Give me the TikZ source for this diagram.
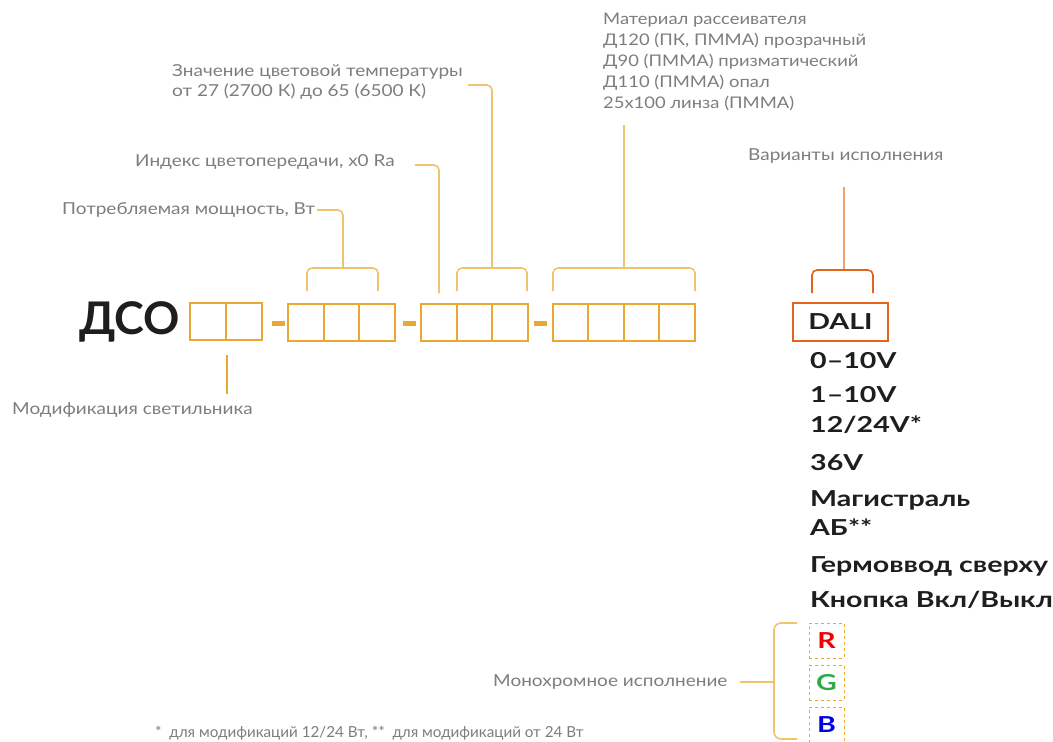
\documentclass[tikz,border=0pt]{standalone}
\usepackage{fontspec}
\setmainfont{Lato}
\newfontfamily\lblfont{Lato}[FakeStretch=1.15]
\newfontfamily\optfont{Lato}[FakeStretch=1.3]
\definecolor{boxor}{RGB}{232,168,50}
\definecolor{brkor}{RGB}{240,196,110}
\definecolor{dalior}{RGB}{226,100,27}
\definecolor{varor}{RGB}{240,160,110}
\definecolor{lblgray}{RGB}{125,125,125}
\definecolor{ink}{RGB}{30,30,30}
\definecolor{rr}{RGB}{240,0,0}
\definecolor{gg}{RGB}{46,170,74}
\definecolor{bb}{RGB}{0,0,230}
\tikzset{
  cell/.style={draw=boxor, line width=2pt, minimum width=35.5pt, minimum height=37pt, inner sep=0},
  dashbar/.style={fill=boxor, minimum width=13pt, minimum height=5pt, inner sep=0},
  brk/.style={draw=brkor, line width=1.6pt, rounded corners=5pt},
  lbl/.style={font=\lblfont\fontsize{16.5}{20}\selectfont, text=lblgray, inner sep=0, anchor=west},
  opt/.style={font=\optfont\bfseries\fontsize{22}{26}\selectfont, text=ink, inner sep=0, anchor=base west},
  rgbbox/.style={draw=boxor, dashed, line width=1pt, minimum width=35pt, minimum height=35pt, inner sep=0, font=\optfont\bfseries\fontsize{22}{26}\selectfont},
}
\begin{document}
\begin{tikzpicture}[x=1pt,y=-1pt]
\useasboundingbox (0,0) rectangle (1053,742);
\clip (0,0) rectangle (1053,742);
% title
\node[font=\bfseries\fontsize{45}{50}\selectfont, text=ink, inner sep=0, anchor=base west] (dso) at (79,334) {ДСО};
% group 1
\node[cell] (c11) at (208,321.5) {};
\node[cell] (c12) at (244,321.5) {};
\node[dashbar] (d1) at (278.5,323.5) {};
% group 2
\node[cell] (c21) at (306,322.5) {};
\node[cell] (c22) at (341.5,322.5) {};
\node[cell] (c23) at (377,322.5) {};
\node[dashbar] (d2) at (409.5,323.5) {};
% group 3
\node[cell] (c31) at (439,322.5) {};
\node[cell] (c32) at (474.5,322.5) {};
\node[cell] (c33) at (510,322.5) {};
\node[dashbar] (d3) at (540.5,323.5) {};
% group 4
\node[cell] (c41) at (570.5,322.5) {};
\node[cell] (c42) at (606,322.5) {};
\node[cell] (c43) at (641.5,322.5) {};
\node[cell] (c44) at (677,322.5) {};
% labels
\node[lbl] (mod) at (12,410) {Модификация светильника};
\node[lbl] (pow) at (62,210) {Потребляемая мощность, Вт};
\node[lbl] (cri) at (135,162) {Индекс цветопередачи, x0 Ra};
\node[lbl, anchor=north west, align=left] (temp) at (172,64) {Значение цветовой температуры\\от 27 (2700 К) до 65 (6500 К)};
\node[lbl, anchor=north west, align=left, font=\lblfont\fontsize{16}{21}\selectfont] (mat) at (603,13) {Материал рассеивателя\\Д120 (ПК, ПММА) прозрачный\\Д90 (ПММА) призматический\\Д110 (ПММА) опал\\25x100 линза (ПММА)};
\node[lbl] (var) at (748,156) {Варианты исполнения};
\node[lbl] (mono) at (493,682) {Монохромное исполнение};
\node[lbl, font=\fontsize{15.2}{17}\selectfont] (foot) at (155,733) {*\ \ для модификаций 12/24 Вт, **\ \ для модификаций от 24 Вт};
% connectors
\coordinate (m1) at (227,355);
\coordinate (m2) at (227,394);
\draw[draw=boxor, line width=2pt] (m1) -- (m2);
\coordinate (pw) at (317,210);
\draw[brk] (pw) -| (343,268);
\draw[brk] (307,291) |- (378,268) -- (378,291);
\coordinate (cw) at (415,165);
\draw[brk] (cw) -| (439,293);
\draw[brk] (457,291) |- (527,268) -- (527,291);
\coordinate (tw) at (468,85);
\draw[brk] (tw) -| (492,268);
\draw[brk] (553,291) |- (695,268) -- (695,291);
\draw[brk, sharp corners] (624,268) -- (624,125);
% variants
\node[draw=dalior, line width=2pt, minimum width=95pt, minimum height=38pt, inner sep=0, font=\optfont\bfseries\fontsize{22}{26}\selectfont, text=ink] (dali) at (840.5,322) {DALI};
\draw[draw=varor, line width=1.6pt] (844,187) -- (844,270);
\draw[draw=dalior, line width=1.6pt, rounded corners=5pt] (812,293) |- (873,270) -- (873,293);
\node[opt] (o1) at (810,368) {0–10V};
\node[opt] (o2) at (810,402) {1–10V};
\node[opt] (o3) at (810,432) {12/24V*};
\node[opt] (o4) at (810,470) {36V};
\node[opt] (o5) at (810,506) {Магистраль};
\node[opt] (o6) at (810,535) {АБ**};
\node[opt] (o7) at (810,572) {Гермоввод сверху};
\node[opt] (o8) at (810,607) {Кнопка Вкл/Выкл};
% RGB
\node[rgbbox, text=rr] (r) at (826.5,640.5) {R};
\node[rgbbox, text=gg] (g) at (826.5,682.5) {G};
\node[rgbbox, text=bb] (b) at (826.5,724.5) {B};
\coordinate (mw) at (740,682);
\draw[brk, rounded corners=7pt] (797,623) -| (774,739) -- (797,739);
\draw[brk] (mw) -- (774,682);
\end{tikzpicture}
\end{document}
